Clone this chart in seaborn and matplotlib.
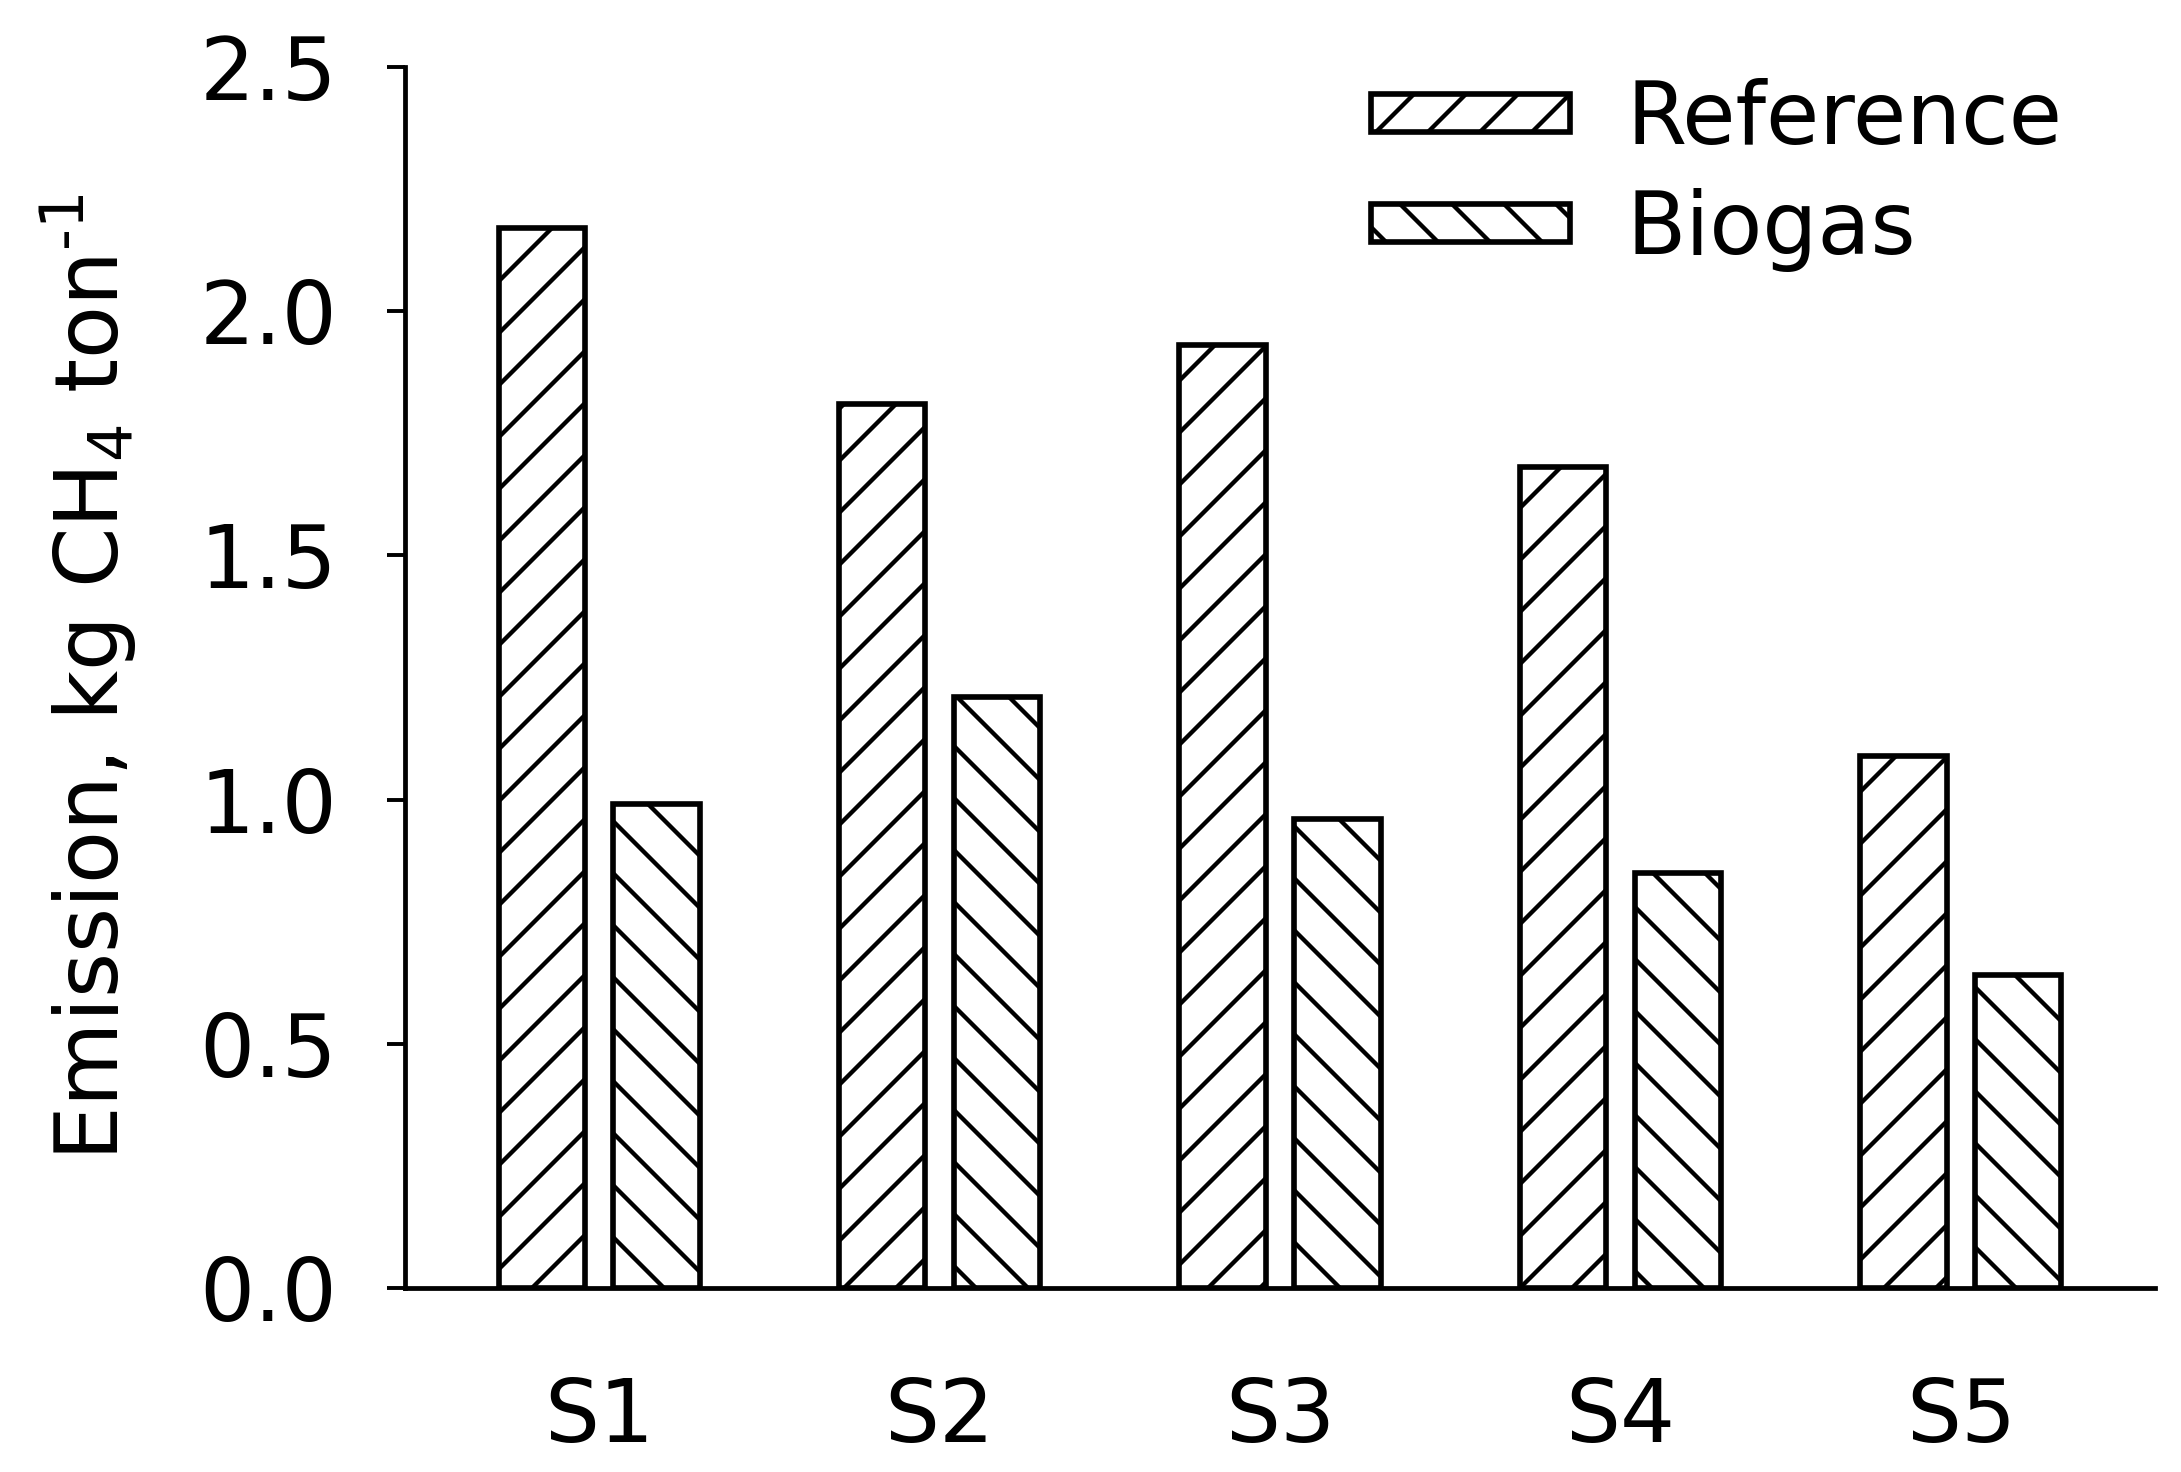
import pandas as pd
import matplotlib
matplotlib.use("Agg")
import matplotlib.pyplot as plt
import seaborn as sns
from matplotlib.patches import Patch

# --- DATA ---
SCENARIOS = ['S1', 'S2', 'S3', 'S4', 'S5']
REFERENCE = [2.17, 1.81, 1.93, 1.68, 1.09]
BIOGAS = [0.99, 1.21, 0.96, 0.85, 0.64]
CASES = ['Reference', 'Biogas']
HATCHES = ['//', '\\\\']
Y_TICKS = [0.0, 0.5, 1.0, 1.5, 2.0, 2.5]
Y_LABEL = r'Emission, kg CH$_4$ ton$^{\text{-}1}$'
# -------------

DPI = 312  # hatch spacing scales with dpi
FONT_SIZE = 20


def setup_plotting():
    sns.set_style("ticks")
    plt.rcParams['font.family'] = ['DejaVu Sans']
    plt.rcParams.update({
        'hatch.linewidth': 1.0,
        'hatch.color': 'black',
        'axes.linewidth': 1.1,
        'axes.edgecolor': 'black',
        'text.color': 'black',
        'axes.labelcolor': 'black',
        'xtick.color': 'black',
        'ytick.color': 'black',
    })


def build_frame():
    rows = []
    for case, values in zip(CASES, [REFERENCE, BIOGAS]):
        for s, v in zip(SCENARIOS, values):
            rows.append({'scenario': s, 'emission': v, 'case': case})
    return pd.DataFrame(rows)


def plot_emissions():
    df = build_frame()

    fig = plt.figure(figsize=(2181 / DPI, 1472 / DPI), dpi=DPI)
    ax = fig.add_axes([0.18569, 0.125, 0.80239, 0.82948])

    sns.barplot(data=df, x='scenario', y='emission', hue='case',
                hue_order=CASES, order=SCENARIOS,
                palette=['white', 'white'], edgecolor='black',
                linewidth=1.3, width=0.675, gap=0.25,
                legend=False, ax=ax)

    for container, hatch in zip(ax.containers, HATCHES):
        for bar in container:
            bar.set_hatch(hatch)

    ax.set_xlim(-0.57, 4.57)
    ax.set_ylim(0, 2.5)
    ax.set_yticks(Y_TICKS)
    ax.set_yticklabels([f"{t:.1f}" for t in Y_TICKS])
    sns.despine(ax=ax)

    ax.tick_params(axis='y', direction='out', length=4.15, width=0.9,
                   pad=11.5, labelsize=FONT_SIZE)
    ax.tick_params(axis='x', length=0, pad=20.3, labelsize=FONT_SIZE)
    ax.set_xlabel('')
    ax.set_ylabel(Y_LABEL, fontsize=FONT_SIZE, labelpad=14)

    handles = [Patch(facecolor='white', edgecolor='black', hatch=h,
                     linewidth=1.3, label=c)
               for c, h in zip(CASES, HATCHES)]
    ax.legend(handles=handles, loc='upper left',
              bbox_to_anchor=(0.6286, 0.947), bbox_transform=fig.transFigure,
              frameon=False, fontsize=FONT_SIZE, handlelength=2.3,
              handleheight=0.3, handletextpad=0.65, labelspacing=0.3,
              borderpad=0, borderaxespad=0)

    fig.savefig('out.png', dpi=DPI)
    plt.close(fig)


if __name__ == '__main__':
    setup_plotting()
    plot_emissions()
